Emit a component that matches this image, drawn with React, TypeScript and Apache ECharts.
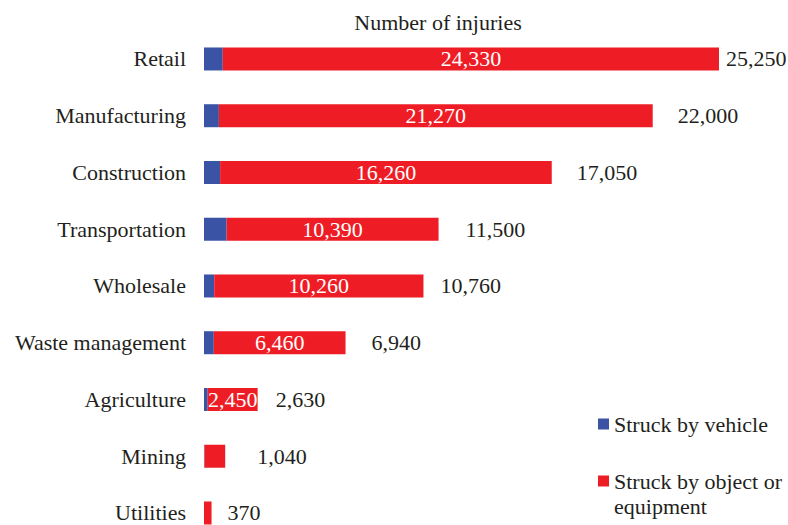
import React, { useEffect, useRef } from 'react';
import * as echarts from 'echarts';

const categories = [
  'Retail',
  'Manufacturing',
  'Construction',
  'Transportation',
  'Wholesale',
  'Waste management',
  'Agriculture',
  'Mining',
  'Utilities',
];
const vehicleValues = [920, 730, 790, 1110, 500, 480, 180, 20, 0];
const objectValues = [24330, 21270, 16260, 10390, 10260, 6460, 2450, 1020, 370];
const totalValues = [25250, 22000, 17050, 11500, 10760, 6940, 2630, 1040, 370];
const totalLabelGaps = [7, 25, 25, 27, 17, 26, 18, 32, 16];

const FONT = '"Liberation Serif", "Times New Roman", serif';
const TEXT = '#231F20';
const FS = 22;
const fmt = (v: number) => v.toLocaleString('en-US');

export default function App() {
  const ref = useRef<HTMLDivElement>(null);
  useEffect(() => {
    if (!ref.current) return;
    const chart = echarts.init(ref.current, undefined, { renderer: 'svg' });
    const option: any = {
      animation: false,
      textStyle: { fontFamily: FONT },
      title: {
        text: 'Number of injuries',
        left: 433,
        top: 6,
        textAlign: 'center',
        textStyle: { fontFamily: FONT, fontSize: 22, fontWeight: 'normal', color: TEXT },
      },
      grid: { left: 204, top: 30.6, width: 515, height: 510.75, outerBoundsMode: 'none', containLabel: false },
      xAxis: { type: 'value', min: 0, max: 25250, show: false },
      yAxis: {
        type: 'category',
        data: categories,
        inverse: true,
        axisLine: { show: false },
        axisTick: { show: false },
        splitLine: { show: false },
        axisLabel: { margin: 18, fontSize: FS, color: TEXT, fontFamily: FONT },
      },
      legend: {
        orient: 'vertical',
        left: 593,
        top: 406.5,
        width: 195,
        height: 200,
        itemWidth: 11,
        itemHeight: 11,
        itemGap: 7,
        icon: 'rect',
        selectedMode: false,
        data: ['Struck by vehicle', 'Struck by object or equipment'],
        formatter: (name: string) =>
          name === 'Struck by object or equipment' ? '\nStruck by object or\nequipment' : name,
        textStyle: { fontSize: FS, color: TEXT, fontFamily: FONT, lineHeight: 25 },
      },
      series: [
        {
          name: 'Struck by vehicle',
          type: 'bar',
          stack: 'total',
          barWidth: 23,
          data: vehicleValues,
          itemStyle: { color: '#3A53A4' },
        },
        {
          name: 'Struck by object or equipment',
          type: 'bar',
          stack: 'total',
          barWidth: 23,
          data: objectValues.map((v) => ({ value: v, label: { show: v >= 2000 } })),
          itemStyle: { color: '#EE1D25' },
          label: {
            show: true,
            position: 'inside',
            color: '#ffffff',
            fontSize: FS,
            fontFamily: FONT,
            formatter: (p: any) => fmt(p.value),
          },
        },
        {
          name: 'Total',
          type: 'bar',
          stack: 'total',
          barWidth: 23,
          silent: true,
          data: totalValues.map((t, i) => ({
            value: 0,
            label: { distance: totalLabelGaps[i], formatter: fmt(t) },
          })),
          itemStyle: { color: 'transparent' },
          label: {
            show: true,
            position: 'right',
            color: TEXT,
            fontSize: FS,
            fontFamily: FONT,
          },
        },
      ],
    };
    chart.setOption(option);
    return () => chart.dispose();
  }, []);
  return (
    <div
      ref={ref}
      style={{ position: 'absolute', left: 0, top: 0, width: 788, height: 525, background: '#fff' }}
    />
  );
}
